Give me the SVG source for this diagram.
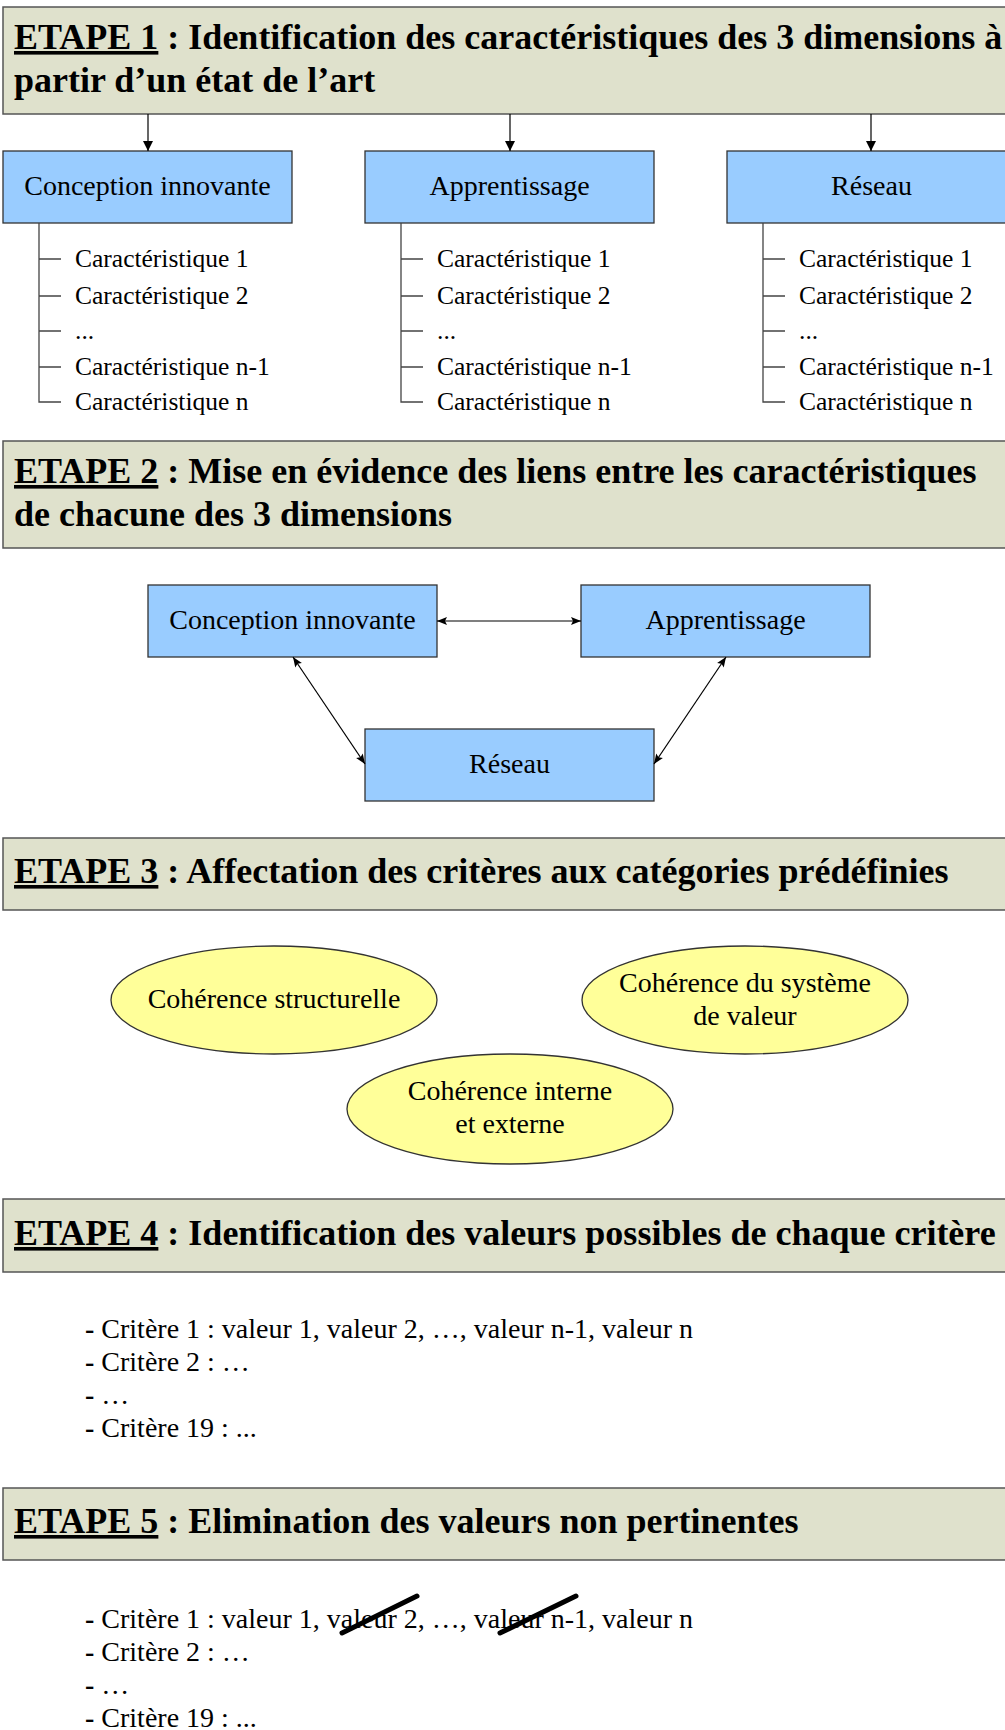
<svg xmlns="http://www.w3.org/2000/svg" width="1005" height="1730" viewBox="0 0 1005 1730">
<defs>
<style>
.hdr{fill:#dfe1cc;stroke:#555;stroke-width:1.5}
.ht{font-family:"Liberation Serif","Times New Roman",serif;font-weight:bold;font-size:36px;fill:#000}
.u{text-decoration:underline}
.blue{fill:#99ccff;stroke:#333;stroke-width:1.3}
.bt{font-family:"Liberation Serif","Times New Roman",serif;font-size:28px;fill:#000;text-anchor:middle}
.tree{fill:none;stroke:#444;stroke-width:1.3}
.it{font-family:"Liberation Serif","Times New Roman",serif;font-size:25.5px;fill:#000}
.ell{fill:#ffff99;stroke:#333;stroke-width:1.3}
.lt{font-family:"Liberation Serif","Times New Roman",serif;font-size:28px;fill:#000}
.conn{stroke:#000;stroke-width:1.2;fill:none}
.strike{stroke:#000;stroke-width:5;stroke-linecap:round}
</style>
<marker id="ah" viewBox="0 0 10 10" refX="10" refY="5" markerWidth="11" markerHeight="10" markerUnits="userSpaceOnUse" orient="auto-start-reverse">
<path d="M0,0 L10,5 L0,10 z" fill="#000"/>
</marker>
<marker id="ah2" viewBox="0 0 10 8" refX="10" refY="4" markerWidth="11" markerHeight="8" markerUnits="userSpaceOnUse" orient="auto-start-reverse">
<path d="M0,0 L10,4 L0,8 L2,4 z" fill="#000"/>
</marker>
</defs>
<rect width="1005" height="1730" fill="#fff"/>

<!-- ETAPE 1 -->
<g id="etape1">
<rect class="hdr" x="3" y="7" width="1010" height="107"/>
<text class="ht" x="14" y="49"><tspan class="u">ETAPE 1</tspan> : Identification des caractéristiques des 3 dimensions à</text>
<text class="ht" x="14" y="92">partir d’un état de l’art</text>
</g>

<g id="e1-conception">
<rect class="blue" x="3" y="151" width="289" height="72"/>
<text class="bt" x="147.5" y="195">Conception innovante</text>
</g>
<g id="e1-apprentissage">
<rect class="blue" x="365" y="151" width="289" height="72"/>
<text class="bt" x="509.5" y="195">Apprentissage</text>
</g>
<g id="e1-reseau">
<rect class="blue" x="727" y="151" width="289" height="72"/>
<text class="bt" x="871.5" y="195">Réseau</text>
</g>

<g id="tree1">
<path class="tree" d="M39,223 V402 H61 M39,259 H61 M39,296 H61 M39,331 H61 M39,367 H61"/>
<text class="it" x="75" y="267">Caractéristique 1</text>
<text class="it" x="75" y="304">Caractéristique 2</text>
<text class="it" x="75" y="339">...</text>
<text class="it" x="75" y="375">Caractéristique n-1</text>
<text class="it" x="75" y="410">Caractéristique n</text>
</g>
<g id="tree2">
<path class="tree" d="M401,223 V402 H423 M401,259 H423 M401,296 H423 M401,331 H423 M401,367 H423"/>
<text class="it" x="437" y="267">Caractéristique 1</text>
<text class="it" x="437" y="304">Caractéristique 2</text>
<text class="it" x="437" y="339">...</text>
<text class="it" x="437" y="375">Caractéristique n-1</text>
<text class="it" x="437" y="410">Caractéristique n</text>
</g>
<g id="tree3">
<path class="tree" d="M763,223 V402 H785 M763,259 H785 M763,296 H785 M763,331 H785 M763,367 H785"/>
<text class="it" x="799" y="267">Caractéristique 1</text>
<text class="it" x="799" y="304">Caractéristique 2</text>
<text class="it" x="799" y="339">...</text>
<text class="it" x="799" y="375">Caractéristique n-1</text>
<text class="it" x="799" y="410">Caractéristique n</text>
</g>

<!-- ETAPE 2 -->
<g id="etape2">
<rect class="hdr" x="3" y="441" width="1010" height="107"/>
<text class="ht" x="14" y="483"><tspan class="u">ETAPE 2</tspan> : Mise en évidence des liens entre les caractéristiques</text>
<text class="ht" x="14" y="526">de chacune des 3 dimensions</text>
</g>
<g id="e2-conception">
<rect class="blue" x="148" y="585" width="289" height="72"/>
<text class="bt" x="292.5" y="629">Conception innovante</text>
</g>
<g id="e2-apprentissage">
<rect class="blue" x="581" y="585" width="289" height="72"/>
<text class="bt" x="725.5" y="629">Apprentissage</text>
</g>
<g id="e2-reseau">
<rect class="blue" x="365" y="729" width="289" height="72"/>
<text class="bt" x="509.5" y="773">Réseau</text>
</g>

<!-- ETAPE 3 -->
<g id="etape3">
<rect class="hdr" x="3" y="838" width="1010" height="72"/>
<text class="ht" x="14" y="883"><tspan class="u">ETAPE 3</tspan> : Affectation des critères aux catégories prédéfinies</text>
</g>
<g id="c-structurelle">
<ellipse class="ell" cx="274" cy="1000" rx="163" ry="54"/>
<text class="bt" x="274" y="1008">Cohérence structurelle</text>
</g>
<g id="c-valeur">
<ellipse class="ell" cx="745" cy="1000" rx="163" ry="54"/>
<text class="bt" x="745" y="992">Cohérence du système</text>
<text class="bt" x="745" y="1025">de valeur</text>
</g>
<g id="c-interne">
<ellipse class="ell" cx="510" cy="1109" rx="163" ry="55"/>
<text class="bt" x="510" y="1100">Cohérence interne</text>
<text class="bt" x="510" y="1133">et externe</text>
</g>

<!-- ETAPE 4 -->
<g id="etape4">
<rect class="hdr" x="3" y="1199" width="1010" height="73"/>
<text class="ht" x="14" y="1245"><tspan class="u">ETAPE 4</tspan> : Identification des valeurs possibles de chaque critère</text>
</g>
<g id="list4">
<text class="lt" x="85" y="1338"><tspan font-weight="bold">-</tspan> Critère 1 : valeur 1, valeur 2, …, valeur n-1, valeur n</text>
<text class="lt" x="85" y="1371"><tspan font-weight="bold">-</tspan> Critère 2 : …</text>
<text class="lt" x="85" y="1404"><tspan font-weight="bold">-</tspan> …</text>
<text class="lt" x="85" y="1437"><tspan font-weight="bold">-</tspan> Critère 19 : ...</text>
</g>

<!-- ETAPE 5 -->
<g id="etape5">
<rect class="hdr" x="3" y="1488" width="1010" height="72"/>
<text class="ht" x="14" y="1533"><tspan class="u">ETAPE 5</tspan> : Elimination des valeurs non pertinentes</text>
</g>
<g id="list5">
<text class="lt" x="85" y="1628"><tspan font-weight="bold">-</tspan> Critère 1 : valeur 1, valeur 2, …, valeur n-1, valeur n</text>
<text class="lt" x="85" y="1661"><tspan font-weight="bold">-</tspan> Critère 2 : …</text>
<text class="lt" x="85" y="1694"><tspan font-weight="bold">-</tspan> …</text>
<text class="lt" x="85" y="1727"><tspan font-weight="bold">-</tspan> Critère 19 : ...</text>
<line class="strike" x1="342" y1="1633" x2="417" y2="1596"/>
<line class="strike" x1="500" y1="1633" x2="576" y2="1596"/>
</g>

<!-- connectors -->
<g id="connectors">
<line class="conn" x1="148" y1="114" x2="148" y2="151" marker-end="url(#ah)"/>
<line class="conn" x1="510" y1="114" x2="510" y2="151" marker-end="url(#ah)"/>
<line class="conn" x1="871" y1="114" x2="871" y2="151" marker-end="url(#ah)"/>
<line class="conn" x1="437" y1="621" x2="581" y2="621" marker-start="url(#ah2)" marker-end="url(#ah2)"/>
<line class="conn" x1="293" y1="657" x2="365" y2="764" marker-start="url(#ah2)" marker-end="url(#ah2)"/>
<line class="conn" x1="726" y1="657" x2="654" y2="764" marker-start="url(#ah2)" marker-end="url(#ah2)"/>
</g>
</svg>
